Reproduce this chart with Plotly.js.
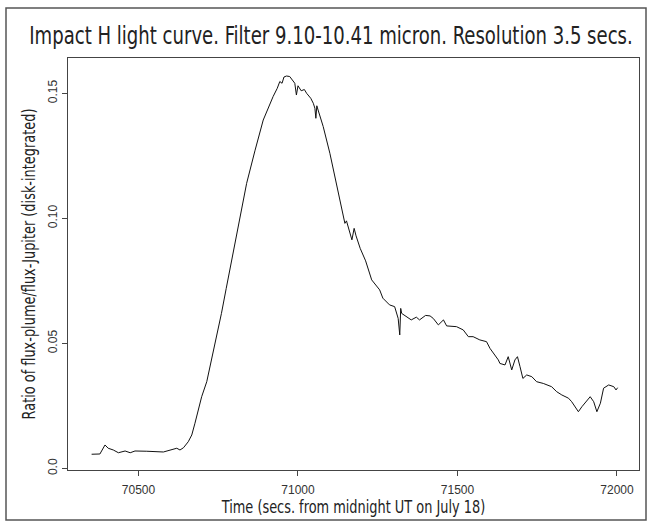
<!DOCTYPE html>
<html>
<head>
<meta charset="utf-8">
<script src="https://cdn.plot.ly/plotly-3.0.1.min.js"></script>
<style>html,body{margin:0;padding:0;background:#fff;}#chart{width:651px;height:524px;}</style>
</head>
<body>
<div id="chart"></div>
<script>
// Time in secs from midnight UT on July 18
const timeSecs = [70353,70379,70395,70405,70421,70437,70458,70474,70489,70505,70526,70578,70599,70620,70630,70641,70656,70667,70677,70688,70698,70714,70730,70745,70760,70775,70792,70815,70839,70865,70891,70922,70935,70943,70950,70956,70964,70974,70982,70990,70995,71000,71010,71020,71027,71040,71048,71053,71056,71059,71063,71070,71079,71100,71121,71131,71142,71147,71152,71160,71169,71176,71182,71195,71205,71212,71231,71245,71256,71266,71287,71303,71314,71319,71322,71325,71340,71355,71371,71381,71400,71414,71424,71440,71456,71466,71497,71518,71534,71549,71570,71591,71602,71628,71633,71649,71659,71670,71680,71688,71696,71705,71717,71733,71748,71769,71795,71811,71827,71848,71858,71879,71890,71900,71916,71927,71937,71948,71958,71974,71990,71997,72002];
// Ratio flux-plume / flux-Jupiter
const fluxRatio = [0.0057,0.0058,0.0094,0.0081,0.0074,0.0063,0.0070,0.0063,0.0070,0.0070,0.0069,0.0066,0.0074,0.0081,0.0074,0.0083,0.0107,0.0134,0.0181,0.0234,0.0287,0.0347,0.0440,0.0530,0.0620,0.0720,0.0834,0.0990,0.1140,0.1270,0.1393,0.1487,0.1520,0.1547,0.1540,0.1565,0.1569,0.1567,0.1555,0.1540,0.1493,0.1530,0.1510,0.1515,0.1500,0.1480,0.1460,0.1440,0.1400,0.1450,0.1433,0.1405,0.1367,0.1260,0.1140,0.1074,0.1020,0.0980,0.0990,0.0950,0.0914,0.0960,0.0930,0.0880,0.0847,0.0830,0.0754,0.0730,0.0714,0.0681,0.0654,0.0647,0.0600,0.0534,0.0640,0.0620,0.0607,0.0594,0.0605,0.0594,0.0612,0.0610,0.0600,0.0574,0.0594,0.0570,0.0567,0.0554,0.0527,0.0527,0.0514,0.0507,0.0480,0.0434,0.0420,0.0414,0.0447,0.0394,0.0434,0.0447,0.0407,0.0360,0.0374,0.0367,0.0347,0.0340,0.0327,0.0307,0.0294,0.0281,0.0267,0.0227,0.0247,0.0261,0.0287,0.0267,0.0227,0.0261,0.0321,0.0334,0.0327,0.0314,0.0323];

const xTickVals = [70500,71000,71500,72000];
const xTickText = ["70500","71000","71500","72000"];
const yTickVals = [0.0,0.05,0.10,0.15];
const yTickText = ["0.0","0.05","0.10","0.15"];

const W = 651, H = 524;
const M = {l:68, r:12, t:58, b:54};
const pw = W - M.l - M.r, ph = H - M.t - M.b;
function px2paperX(p){ return (p - M.l)/pw; }
function px2paperY(p){ return (H - M.b - p)/ph; }

const narrow = '"Liberation Sans Narrow","DejaVu Sans Condensed","Roboto Condensed",sans-serif';
const tickFont = {family:'"Liberation Sans",Arial,sans-serif', size:12, color:'#333'};
const SQUEEZE = 0.82;

const trace = {
  x: timeSecs, y: fluxRatio, type:'scatter', mode:'lines',
  line:{color:'#111', width:1}, hoverinfo:'skip'
};

const layout = {
  width:W, height:H, margin:M,
  paper_bgcolor:'#fff', plot_bgcolor:'#fff',
  showlegend:false,
  title:{text:'Impact H light curve. Filter 9.10-10.41 micron. Resolution 3.5 secs.',
    font:{family:narrow, size:24.5, color:'#222'},
    xref:'container', yref:'container', x:331/W, xanchor:'center', y:1-35/H, yanchor:'middle'},
  xaxis:{range:[70279,72069], tickvals:xTickVals, ticktext:xTickText, ticks:'outside', ticklen:5, tickcolor:'#444',
    ticklabelstandoff:4,
    showgrid:false, zeroline:false, showline:true, mirror:true, linecolor:'#444', linewidth:1,
    tickfont:tickFont,
    title:{text:'Time (secs. from midnight UT on July 18)', font:{family:narrow, size:17.5, color:'#222'}, standoff:2}},
  yaxis:{range:[-0.0006,0.1641], tickvals:yTickVals, ticktext:yTickText, ticks:'outside', ticklen:5, tickcolor:'#444', tickangle:-90,
    showgrid:false, zeroline:false, showline:true, mirror:true, linecolor:'#444', linewidth:1,
    tickfont:tickFont,
    title:{text:'Ratio of flux-plume/flux-Jupiter (disk-integrated)', font:{family:narrow, size:17.5, color:'#222'}, standoff:6}},
  shapes:[{type:'rect', xref:'paper', yref:'paper', x0:px2paperX(6), x1:px2paperX(646), y0:px2paperY(520), y1:px2paperY(8),
    line:{color:'#555', width:1.5}, fillcolor:'rgba(0,0,0,0)', layer:'below'}]
};

Plotly.newPlot('chart', [trace], layout, {staticPlot:true, displayModeBar:false}).then(function(){
  // emulate a condensed typeface for the titles by narrowing them horizontally
  function squeeze(sel, rotated){
    const t = document.querySelector(sel);
    if(!t) return;
    const x = parseFloat(t.getAttribute('x')), y = parseFloat(t.getAttribute('y'));
    const base = rotated ? 'rotate(-90,' + x + ',' + y + ') ' : '';
    t.setAttribute('transform', base + 'translate(' + x + ',' + y + ') scale(' + SQUEEZE + ',1) translate(' + (-x) + ',' + (-y) + ')');
  }
  squeeze('.gtitle', false);
  squeeze('.xtitle', false);
  squeeze('.ytitle', true);
});
</script>
</body>
</html>
